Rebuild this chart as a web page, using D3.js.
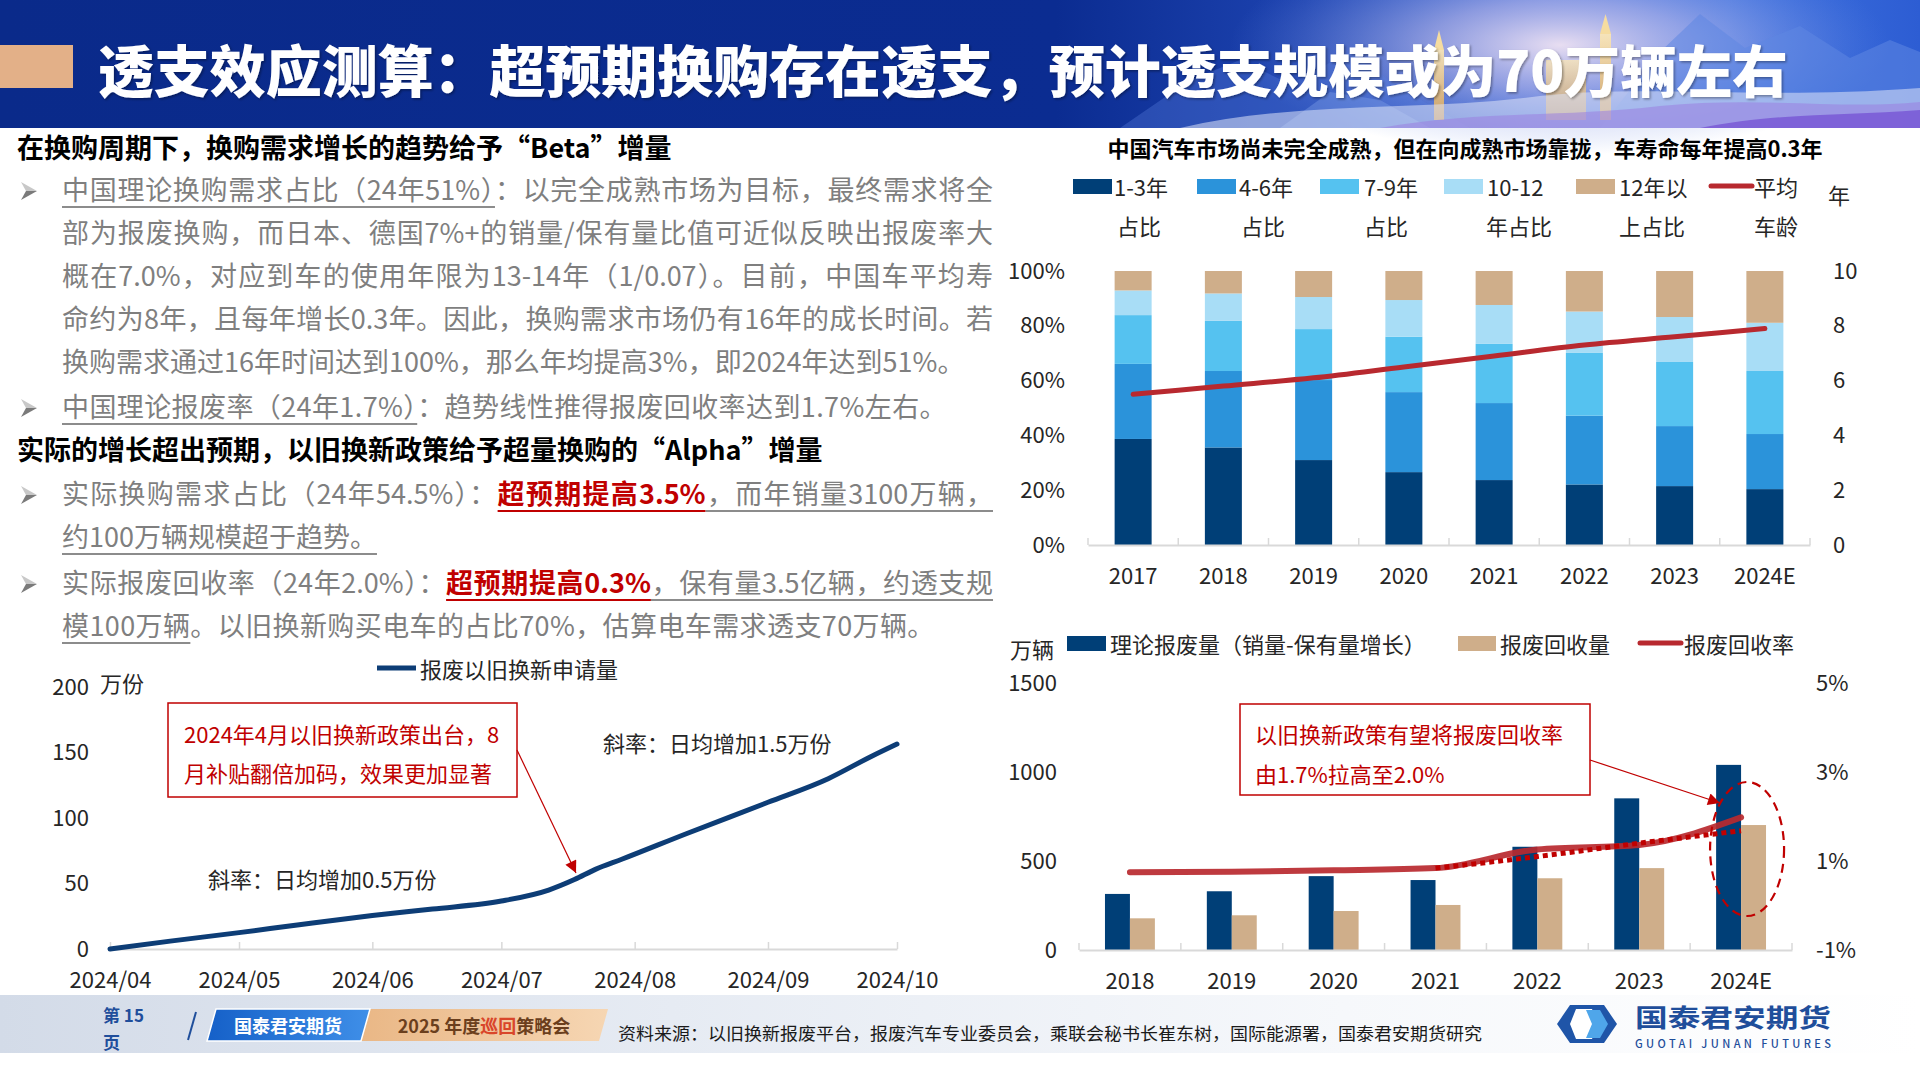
<!DOCTYPE html>
<html lang="zh-CN">
<head>
<meta charset="utf-8">
<script src="https://cdn.jsdelivr.net/npm/d3@7"></script>
<style>
body{margin:0;background:#fff;}
#page{position:relative;width:1920px;height:1080px;overflow:hidden;background:#fff;font-family:"Noto Sans CJK SC","Noto Sans",sans-serif;}
#svg{position:absolute;left:0;top:0;}
.ln{position:absolute;left:62px;font-size:27px;line-height:43px;height:43px;color:#7f7f7f;white-space:nowrap;}
.ln.j{width:931px;text-align:justify;text-align-last:justify;}
.ln.s{letter-spacing:0.4px;}
.h{position:absolute;left:17px;font-size:27px;font-weight:700;color:#000;line-height:43px;height:43px;white-space:nowrap;}
.u{text-decoration:underline;text-decoration-color:#8c8c8c;text-underline-offset:6px;text-decoration-thickness:1.5px;}
.r{color:#c00000;font-weight:700;text-decoration:underline;text-decoration-color:#c00000;text-underline-offset:6px;text-decoration-thickness:2px;}
</style>
</head>
<body>
<div id="page">
<svg id="svg" width="1920" height="1080"></svg>
<div id="txt"></div>
</div>
<script>
// ---------------- DATA ----------------
const ageYears = ["2017","2018","2019","2020","2021","2022","2023","2024E"];
const share1to3 = [38.7,35.6,31.0,26.6,23.7,22.1,21.5,20.4];
const share4to6 = [27.4,27.9,29.2,29.2,28.1,25.1,21.9,20.1];
const share7to9 = [17.8,18.3,18.6,20.2,21.6,22.9,23.4,23.0];
const share10to12 = [9.0,10.0,11.7,13.4,14.2,15.1,16.4,17.6];
const share12plus = [7.1,8.2,9.5,10.6,12.4,14.8,16.8,18.9];
const avgAge = [5.5,5.8,6.1,6.5,6.9,7.3,7.6,7.9];
const ageLegend = [["1-3年","占比"],["4-6年","占比"],["7-9年","占比"],["10-12","年占比"],["12年以","上占比"]];
const pctTicks = [0,20,40,60,80,100];
const ageTicks = [0,2,4,6,8,10];

const applyDates = ["2024-04-01","2024-04-15","2024-05-01","2024-05-15","2024-06-01","2024-06-15","2024-07-01","2024-07-12","2024-07-18","2024-07-23","2024-07-29","2024-08-13","2024-09-01","2024-09-15","2024-09-25","2024-10-01"];
const applyValues = [0,6,12.5,18.5,25.5,30.5,36.6,45,53,61,68.5,88,112,130,147,156.5];
const applyTicks = [0,50,100,150,200];

const scrapYears = ["2018","2019","2020","2021","2022","2023","2024E"];
const theoryScrap = [315,330,415,393,580,852,1040];
const recycledScrap = [178,195,219,253,403,460,702];
const recycleRate = [0.75,0.76,0.79,0.84,1.26,1.36,1.98];
const trendYears = ["2021","2022","2023","2024E"];
const trendRate = [0.84,1.10,1.40,1.68];
const scrapTicks = [0,500,1000,1500];
const rateTicks = [-1,1,3,5];

// ---------------- SETUP ----------------
const FONT = '"Noto Sans CJK SC","Noto Sans",sans-serif';
const TXT = "#262626";
const svg = d3.select("#svg");
const defs = svg.append("defs");

// ---------------- HEADER ----------------
const hg = defs.append("linearGradient").attr("id","hdr").attr("x1",0).attr("x2",1).attr("y1",0).attr("y2",0);
[[0,"#0a2a8a"],[0.55,"#0b2c91"],[0.68,"#1d43b0"],[0.8,"#3a66d4"],[0.9,"#3f72de"],[1,"#2d5dd3"]].forEach(s=>hg.append("stop").attr("offset",s[0]).attr("stop-color",s[1]));
const rg = defs.append("radialGradient").attr("id","glow").attr("cx",0.5).attr("cy",0.5).attr("r",0.5);
[[0,"#f1e4f3",0.95],[0.4,"#c9c4ee",0.6],[1,"#6e8fe6",0]].forEach(s=>rg.append("stop").attr("offset",s[0]).attr("stop-color",s[1]).attr("stop-opacity",s[2]));
const gold = defs.append("linearGradient").attr("id","gold").attr("x1",0).attr("x2",0).attr("y1",0).attr("y2",1);
[[0,"#fbe7b5"],[1,"#d9a45a"]].forEach(s=>gold.append("stop").attr("offset",s[0]).attr("stop-color",s[1]));
const hd = svg.append("g");
hd.append("rect").attr("x",0).attr("y",0).attr("width",1920).attr("height",128).attr("fill","url(#hdr)");
hd.append("ellipse").attr("cx",1560).attr("cy",45).attr("rx",330).attr("ry",110).attr("fill","url(#glow)");
hd.append("path").attr("d","M1120,128 L1190,80 L1240,60 L1290,84 L1350,52 L1400,88 L1470,128 Z").attr("fill","#5a7fdc").attr("opacity",0.35);
hd.append("path").attr("d","M1600,128 L1660,52 L1700,14 L1745,48 L1800,26 L1850,58 L1890,40 L1920,52 L1920,128 Z").attr("fill","#5f86e2").attr("opacity",0.55);
hd.append("path").attr("d","M1280,128 L1330,92 L1380,100 L1430,128 Z").attr("fill","#7f9fe8").attr("opacity",0.4);
hd.append("rect").attr("x",1434).attr("y",50).attr("width",10).attr("height",70).attr("fill","url(#gold)").attr("opacity",0.9);
hd.append("path").attr("d","M1434,50 L1439,30 L1444,50 Z").attr("fill","#f6dca0");
hd.append("rect").attr("x",1600).attr("y",34).attr("width",11).attr("height",86).attr("fill","url(#gold)").attr("opacity",0.9);
hd.append("path").attr("d","M1600,34 L1605.5,14 L1611,34 Z").attr("fill","#f6dca0");
hd.append("rect").attr("x",1546).attr("y",60).attr("width",40).attr("height",60).attr("fill","url(#gold)").attr("opacity",0.75);
hd.append("path").attr("d","M1180,128 C1300,100 1420,112 1540,96 C1650,84 1760,100 1920,88 L1920,128 Z").attr("fill","#dfe3f8").attr("opacity",0.55);
hd.append("path").attr("d","M1380,128 C1480,110 1560,118 1660,106 C1760,96 1840,110 1920,102 L1920,128 Z").attr("fill","#9b7fe0").attr("opacity",0.55);
hd.append("path").attr("d","M1700,128 C1780,112 1850,116 1920,110 L1920,128 Z").attr("fill","#6a3fcf").attr("opacity",0.6);
hd.append("rect").attr("x",0).attr("y",45).attr("width",73).attr("height",43).attr("fill","#e3b088");
const sh = defs.append("filter").attr("id","tsh").attr("x","-5%").attr("y","-20%").attr("width","110%").attr("height","140%");
sh.append("feDropShadow").attr("dx",1.5).attr("dy",1.5).attr("stdDeviation",1).attr("flood-color","#000").attr("flood-opacity",0.35);
hd.append("text").attr("x",98).attr("y",92).attr("font-family",FONT).attr("font-weight",900).attr("font-size",56)
  .attr("fill","#fff").attr("filter","url(#tsh)").attr("textLength",1690).attr("lengthAdjust","spacingAndGlyphs")
  .text("透支效应测算：超预期换购存在透支，预计透支规模或为70万辆左右");

// ---------------- LEFT TEXT ----------------
const lines = [
  {c:148,h:1,html:"在换购周期下，换购需求增长的趋势给予“Beta”增量"},
  {c:190,b:1,j:1,html:'<span class="u">中国理论换购需求占比（24年51%）</span>：以完全成熟市场为目标，最终需求将全'},
  {c:233,j:1,html:"部为报废换购，而日本、德国7%+的销量/保有量比值可近似反映出报废率大"},
  {c:276,j:1,html:"概在7.0%，对应到车的使用年限为13-14年（1/0.07）。目前，中国车平均寿"},
  {c:319,j:1,html:"命约为8年，且每年增长0.3年。因此，换购需求市场仍有16年的成长时间。若"},
  {c:362,html:"换购需求通过16年时间达到100%，那么年均提高3%，即2024年达到51%。"},
  {c:407,b:1,s:1,html:'<span class="u">中国理论报废率（24年1.7%）</span>：趋势线性推得报废回收率达到1.7%左右。'},
  {c:450,h:1,html:"实际的增长超出预期，以旧换新政策给予超量换购的“Alpha”增量"},
  {c:494,b:1,j:1,html:'实际换购需求占比（24年54.5%）：<span class="r">超预期提高3.5%</span><span class="u">，而年销量3100万辆，</span>'},
  {c:537,html:'<span class="u">约100万辆规模超于趋势。</span>'},
  {c:583,b:1,j:1,html:'实际报废回收率（24年2.0%）：<span class="r">超预期提高0.3%</span><span class="u">，保有量3.5亿辆，约透支规</span>'},
  {c:626,s:1,html:'<span class="u">模100万辆</span>。以旧换新购买电车的占比70%，估算电车需求透支70万辆。'}
];
const txt = d3.select("#txt");
const bul = svg.append("g");
lines.forEach(l=>{
  txt.append("div").attr("class", l.h ? "h" : ("ln" + (l.j ? " j" : "") + (l.s ? " s" : ""))).style("top",(l.c-23)+"px").html(l.html);
  if(l.b){
    const c = l.c + 1;
    bul.append("path").attr("d",`M21,${c-9} L37,${c} L26,${c} Z`).attr("fill","#c8c8c8");
    bul.append("path").attr("d",`M26,${c} L37,${c} L21,${c+9} Z`).attr("fill","#7a7a7a");
  }
});

// ---------------- TOP-RIGHT CHART ----------------
const ageColors = ["#003f77","#2b93da","#55c2f0","#a8ddf6","#cfae8a"];
const c1 = svg.append("g");
c1.append("text").attr("x",1465).attr("y",147).attr("text-anchor","middle").attr("dominant-baseline","central")
  .attr("font-family",FONT).attr("font-weight",700).attr("font-size",22).attr("fill","#000")
  .text("中国汽车市场尚未完全成熟，但在向成熟市场靠拢，车寿命每年提高0.3年");
// legend
const swX = [1073,1197,1320,1444,1576];
const lbX = [1114,1239,1364,1487,1619];
const lb2X = [1139,1263,1386,1519,1652];
ageLegend.forEach((d,i)=>{
  c1.append("rect").attr("x",swX[i]).attr("y",179).attr("width",39).attr("height",15).attr("fill",ageColors[i]);
  c1.append("text").attr("x",lbX[i]).attr("y",186).attr("dominant-baseline","central").attr("font-family",FONT).attr("font-size",22).attr("fill",TXT).text(d[0]);
  c1.append("text").attr("x",lb2X[i]).attr("y",225).attr("text-anchor","middle").attr("dominant-baseline","central").attr("font-family",FONT).attr("font-size",22).attr("fill",TXT).text(d[1]);
});
c1.append("line").attr("x1",1711).attr("x2",1752).attr("y1",186).attr("y2",186).attr("stroke","#b8292f").attr("stroke-width",5).attr("stroke-linecap","round");
c1.append("text").attr("x",1754).attr("y",186).attr("dominant-baseline","central").attr("font-family",FONT).attr("font-size",22).attr("fill",TXT).text("平均");
c1.append("text").attr("x",1776).attr("y",225).attr("text-anchor","middle").attr("dominant-baseline","central").attr("font-family",FONT).attr("font-size",22).attr("fill",TXT).text("车龄");
c1.append("text").attr("x",1839).attr("y",194).attr("text-anchor","middle").attr("dominant-baseline","central").attr("font-family",FONT).attr("font-size",22).attr("fill",TXT).text("年");

const x1 = d3.scaleBand().domain(ageYears).range([1088,1810]).paddingInner(0.59).paddingOuter(0.295);
const y1 = d3.scaleLinear().domain([0,100]).range([545,271]);
const y1r = d3.scaleLinear().domain([0,10]).range([545,271]);
const rows1 = ageYears.map((y,i)=>({year:y,s0:share1to3[i],s1:share4to6[i],s2:share7to9[i],s3:share10to12[i],s4:share12plus[i]}));
const stacked = d3.stack().keys(["s0","s1","s2","s3","s4"])(rows1);
c1.append("g").selectAll("g").data(stacked).join("g").attr("fill",(d,i)=>ageColors[i])
  .selectAll("rect").data(d=>d).join("rect")
  .attr("x",d=>x1(d.data.year)).attr("width",x1.bandwidth())
  .attr("y",d=>y1(d[1])).attr("height",d=>y1(d[0])-y1(d[1]));
// x axis
const ax1 = c1.append("g").attr("transform","translate(0,545)").call(d3.axisBottom(x1).tickSize(0).tickPadding(0));
ax1.select(".domain").attr("stroke","#d9d9d9").attr("stroke-width",2);
ax1.selectAll("text").attr("y",31).attr("dy","0.35em").attr("font-family",FONT).attr("font-size",22).attr("fill",TXT);
d3.range(ageYears.length+1).forEach(i=>{
  const xx = x1.range()[0] + i*x1.step();
  c1.append("line").attr("x1",xx).attr("x2",xx).attr("y1",538).attr("y2",545).attr("stroke","#d9d9d9").attr("stroke-width",1.5);
});
const ayl = c1.append("g").attr("transform","translate(1068,0)").call(d3.axisLeft(y1).tickValues(pctTicks).tickFormat(d=>d+"%").tickSize(0).tickPadding(3));
ayl.select(".domain").remove();
ayl.selectAll("text").attr("font-family",FONT).attr("font-size",22).attr("fill",TXT);
const ayr = c1.append("g").attr("transform","translate(1830,0)").call(d3.axisRight(y1r).tickValues(ageTicks).tickSize(0).tickPadding(3));
ayr.select(".domain").remove();
ayr.selectAll("text").attr("font-family",FONT).attr("font-size",22).attr("fill",TXT);
const ageLine = d3.line().x((d,i)=>x1(ageYears[i])+x1.bandwidth()/2).y(d=>y1r(d)).curve(d3.curveMonotoneX);
c1.append("path").datum(avgAge).attr("d",ageLine).attr("fill","none").attr("stroke","#b8292f").attr("stroke-width",5).attr("stroke-linecap","round");

// ---------------- BOTTOM-LEFT CHART ----------------
const parse = d3.timeParse("%Y-%m-%d");
const c2 = svg.append("g");
const xT = d3.scaleTime().domain([parse("2024-04-01"),parse("2024-10-01")]).range([110,897]);
const yA = d3.scaleLinear().domain([0,200]).range([949,687]);
c2.append("line").attr("x1",377).attr("x2",416).attr("y1",668).attr("y2",668).attr("stroke","#0d3d76").attr("stroke-width",5);
c2.append("text").attr("x",420).attr("y",668).attr("dominant-baseline","central").attr("font-family",FONT).attr("font-size",22).attr("fill",TXT).text("报废以旧换新申请量");
c2.append("text").attr("x",100).attr("y",682).attr("dominant-baseline","central").attr("font-family",FONT).attr("font-size",22).attr("fill",TXT).text("万份");
const axT = c2.append("g").attr("transform","translate(0,949)")
  .call(d3.axisBottom(xT).ticks(d3.timeMonth.every(1)).tickFormat(d3.timeFormat("%Y/%m")).tickSize(-7).tickSizeOuter(0));
axT.select(".domain").attr("stroke","#d9d9d9").attr("stroke-width",2);
axT.selectAll(".tick line").attr("stroke","#d9d9d9").attr("stroke-width",1.5);
axT.selectAll("text").attr("y",31).attr("dy","0.35em").attr("font-family",FONT).attr("font-size",22).attr("fill",TXT);
const ayA = c2.append("g").attr("transform","translate(92,0)").call(d3.axisLeft(yA).tickValues(applyTicks).tickSize(0).tickPadding(3));
ayA.select(".domain").remove();
ayA.selectAll("text").attr("font-family",FONT).attr("font-size",22).attr("fill",TXT);
const applyLine = d3.line().x((d,i)=>xT(parse(applyDates[i]))).y(d=>yA(d)).curve(d3.curveMonotoneX);
c2.append("path").datum(applyValues).attr("d",applyLine).attr("fill","none").attr("stroke","#0d3d76").attr("stroke-width",5).attr("stroke-linecap","round");
// annotations
c2.append("rect").attr("x",168).attr("y",703).attr("width",349).attr("height",94).attr("fill","#fff").attr("stroke","#c00000").attr("stroke-width",1.5);
c2.append("text").attr("x",184).attr("y",733).attr("dominant-baseline","central").attr("font-family",FONT).attr("font-size",22).attr("fill","#c00000").text("2024年4月以旧换新政策出台，8");
c2.append("text").attr("x",184).attr("y",772).attr("dominant-baseline","central").attr("font-family",FONT).attr("font-size",22).attr("fill","#c00000").text("月补贴翻倍加码，效果更加显著");
c2.append("text").attr("x",603).attr("y",742).attr("dominant-baseline","central").attr("font-family",FONT).attr("font-size",22).attr("fill",TXT).text("斜率：日均增加1.5万份");
c2.append("text").attr("x",208).attr("y",878).attr("dominant-baseline","central").attr("font-family",FONT).attr("font-size",22).attr("fill",TXT).text("斜率：日均增加0.5万份");
defs.append("marker").attr("id","arr").attr("viewBox","0 0 10 10").attr("refX",10).attr("refY",5)
  .attr("markerWidth",14).attr("markerHeight",12).attr("markerUnits","userSpaceOnUse").attr("orient","auto")
  .append("path").attr("d","M0,0 L10,5 L0,10 Z").attr("fill","#c00000");
c2.append("line").attr("x1",517).attr("y1",750).attr("x2",576).attr("y2",873).attr("stroke","#c00000").attr("stroke-width",1.2).attr("marker-end","url(#arr)");

// ---------------- BOTTOM-RIGHT CHART ----------------
const c3 = svg.append("g");
const xB = d3.scaleBand().domain(scrapYears).range([1079,1792]).paddingInner(0.51).paddingOuter(0.255);
const xSub = d3.scaleBand().domain(["theory","recycled"]).range([0,xB.bandwidth()]);
const yB = d3.scaleLinear().domain([0,1500]).range([950,683]);
const yBr = d3.scaleLinear().domain([-1,5]).range([950,683]);
// legend
c3.append("text").attr("x",1010).attr("y",648).attr("dominant-baseline","central").attr("font-family",FONT).attr("font-size",22).attr("fill",TXT).text("万辆");
c3.append("rect").attr("x",1067).attr("y",636).attr("width",39).attr("height",15).attr("fill","#003f77");
c3.append("text").attr("x",1110).attr("y",643).attr("dominant-baseline","central").attr("font-family",FONT).attr("font-size",22).attr("fill",TXT).text("理论报废量（销量-保有量增长）");
c3.append("rect").attr("x",1458).attr("y",636).attr("width",38).attr("height",15).attr("fill","#cfae8a");
c3.append("text").attr("x",1500).attr("y",643).attr("dominant-baseline","central").attr("font-family",FONT).attr("font-size",22).attr("fill",TXT).text("报废回收量");
c3.append("line").attr("x1",1640).attr("x2",1681).attr("y1",643).attr("y2",643).attr("stroke","#b8292f").attr("stroke-width",5).attr("stroke-linecap","round");
c3.append("text").attr("x",1684).attr("y",643).attr("dominant-baseline","central").attr("font-family",FONT).attr("font-size",22).attr("fill",TXT).text("报废回收率");
// bars
c3.append("g").selectAll("rect").data(theoryScrap).join("rect")
  .attr("x",(d,i)=>xB(scrapYears[i])+xSub("theory")).attr("width",xSub.bandwidth())
  .attr("y",d=>yB(d)).attr("height",d=>yB(0)-yB(d)).attr("fill","#003f77");
c3.append("g").selectAll("rect").data(recycledScrap).join("rect")
  .attr("x",(d,i)=>xB(scrapYears[i])+xSub("recycled")).attr("width",xSub.bandwidth())
  .attr("y",d=>yB(d)).attr("height",d=>yB(0)-yB(d)).attr("fill","#cfae8a");
// axes
const axB = c3.append("g").attr("transform","translate(0,950)").call(d3.axisBottom(xB).tickSize(0).tickPadding(0));
axB.select(".domain").attr("stroke","#d9d9d9").attr("stroke-width",2);
axB.selectAll("text").attr("y",31).attr("dy","0.35em").attr("font-family",FONT).attr("font-size",22).attr("fill",TXT);
d3.range(scrapYears.length+1).forEach(i=>{
  const xx = xB.range()[0] + i*xB.step();
  c3.append("line").attr("x1",xx).attr("x2",xx).attr("y1",943).attr("y2",950).attr("stroke","#d9d9d9").attr("stroke-width",1.5);
});
const ayB = c3.append("g").attr("transform","translate(1060,0)").call(d3.axisLeft(yB).tickValues(scrapTicks).tickFormat(d3.format("d")).tickSize(0).tickPadding(3));
ayB.select(".domain").remove();
ayB.selectAll("text").attr("font-family",FONT).attr("font-size",22).attr("fill",TXT);
const ayBr = c3.append("g").attr("transform","translate(1813,0)").call(d3.axisRight(yBr).tickValues(rateTicks).tickFormat(d=>d+"%").tickSize(0).tickPadding(3));
ayBr.select(".domain").remove();
ayBr.selectAll("text").attr("font-family",FONT).attr("font-size",22).attr("fill",TXT);
// lines
const rateLine = d3.line().x((d,i)=>xB(scrapYears[i])+xB.bandwidth()/2).y(d=>yBr(d)).curve(d3.curveMonotoneX);
c3.append("path").datum(recycleRate).attr("d",rateLine).attr("fill","none").attr("stroke","#b8292f").attr("stroke-opacity",0.92).attr("stroke-width",6).attr("stroke-linecap","round");
const trendLine = d3.line().x((d,i)=>xB(trendYears[i])+xB.bandwidth()/2).y(d=>yBr(d)).curve(d3.curveMonotoneX);
c3.append("path").datum(trendRate).attr("d",trendLine).attr("fill","none").attr("stroke","#c00000").attr("stroke-width",5).attr("stroke-dasharray","5 4");
// annotation
c3.append("rect").attr("x",1240).attr("y",704).attr("width",350).attr("height",91).attr("fill","#fff").attr("stroke","#c00000").attr("stroke-width",1.5);
c3.append("text").attr("x",1255).attr("y",733).attr("dominant-baseline","central").attr("font-family",FONT).attr("font-size",22).attr("fill","#c00000").text("以旧换新政策有望将报废回收率");
c3.append("text").attr("x",1255).attr("y",773).attr("dominant-baseline","central").attr("font-family",FONT).attr("font-size",22).attr("fill","#c00000").text("由1.7%拉高至2.0%");
c3.append("line").attr("x1",1590).attr("y1",760).attr("x2",1720).attr("y2",803).attr("stroke","#c00000").attr("stroke-width",1.2).attr("marker-end","url(#arr)");
const ecx = xB("2024E")+xB.bandwidth()/2+6;
c3.append("ellipse").attr("cx",ecx).attr("cy",849).attr("rx",37).attr("ry",67).attr("fill","none")
  .attr("stroke","#c00000").attr("stroke-width",2.2).attr("stroke-dasharray","9 6");

// ---------------- FOOTER ----------------
const fg = defs.append("linearGradient").attr("id","ftr").attr("x1",0).attr("x2",1).attr("y1",0).attr("y2",0);
[[0,"#d3dbe8"],[0.35,"#e6ebf3"],[0.7,"#f6f8fb"],[1,"#ffffff"]].forEach(s=>fg.append("stop").attr("offset",s[0]).attr("stop-color",s[1]));
const bg2 = defs.append("linearGradient").attr("id","bluep").attr("x1",0).attr("x2",1).attr("y1",0).attr("y2",0);
[[0,"#1560c8"],[1,"#3f8fe8"]].forEach(s=>bg2.append("stop").attr("offset",s[0]).attr("stop-color",s[1]));
const tg2 = defs.append("linearGradient").attr("id","tanp").attr("x1",0).attr("x2",1).attr("y1",0).attr("y2",0);
[[0,"#e9b684"],[1,"#f6d6b3"]].forEach(s=>tg2.append("stop").attr("offset",s[0]).attr("stop-color",s[1]));
const ft = svg.append("g");
ft.append("rect").attr("x",0).attr("y",995).attr("width",1920).attr("height",58).attr("fill","url(#ftr)");
ft.append("text").attr("x",103).attr("y",1014).attr("dominant-baseline","central").attr("font-family",FONT).attr("font-weight",700).attr("font-size",17).attr("fill","#1f4e9b").text("第 15");
ft.append("text").attr("x",103).attr("y",1041).attr("dominant-baseline","central").attr("font-family",FONT).attr("font-weight",700).attr("font-size",17).attr("fill","#1f4e9b").text("页");
ft.append("line").attr("x1",196).attr("y1",1012).attr("x2",188).attr("y2",1040).attr("stroke","#1f4e9b").attr("stroke-width",2);
ft.append("path").attr("d","M360,1009 L608,1009 L599,1041 L351,1041 Z").attr("fill","url(#tanp)");
ft.append("path").attr("d","M216,1009 L370,1009 L361,1041 L207,1041 Z").attr("fill","url(#bluep)").attr("stroke","#fff").attr("stroke-width",1.5);
ft.append("text").attr("x",288).attr("y",1025).attr("text-anchor","middle").attr("dominant-baseline","central").attr("font-family",FONT).attr("font-weight",700).attr("font-size",18).attr("fill","#fff").text("国泰君安期货");
const tt = ft.append("text").attr("x",484).attr("y",1025).attr("text-anchor","middle").attr("dominant-baseline","central").attr("font-family",FONT).attr("font-weight",700).attr("font-size",18).attr("fill","#6b3f1d");
tt.append("tspan").text("2025 年度");
tt.append("tspan").attr("fill","#d9462a").text("巡回");
tt.append("tspan").text("策略会");
ft.append("text").attr("x",618).attr("y",1032).attr("dominant-baseline","central").attr("font-family",FONT).attr("font-size",17.5).attr("fill","#1a1a1a")
  .attr("textLength",864).attr("lengthAdjust","spacingAndGlyphs")
  .text("资料来源：以旧换新报废平台，报废汽车专业委员会，乘联会秘书长崔东树，国际能源署，国泰君安期货研究");
// logo
ft.append("path").attr("d","M1570,1005 L1604,1005 L1617,1024 L1604,1043 L1570,1043 L1557,1024 Z").attr("fill","#1f55a8");
ft.append("path").attr("d","M1576,1009 L1592,1009 L1598,1024 L1592,1039 L1576,1039 L1570,1024 Z").attr("fill","#ffffff");
ft.append("path").attr("d","M1586,1010 L1600,1010 L1608,1024 L1600,1038 L1586,1038 L1592,1024 Z").attr("fill","#4fa6ea");
ft.append("text").attr("x",1635).attr("y",1016).attr("dominant-baseline","central").attr("font-family",FONT).attr("font-weight",700).attr("font-size",25).attr("fill","#1f4e9b")
  .attr("textLength",196).attr("lengthAdjust","spacingAndGlyphs").text("国泰君安期货");
ft.append("text").attr("x",1635).attr("y",1043).attr("dominant-baseline","central").attr("font-family",FONT).attr("font-weight",500).attr("font-size",11).attr("fill","#1f4e9b")
  .attr("textLength",196).attr("lengthAdjust","spacing").text("GUOTAI JUNAN FUTURES");
</script>
</body>
</html>
